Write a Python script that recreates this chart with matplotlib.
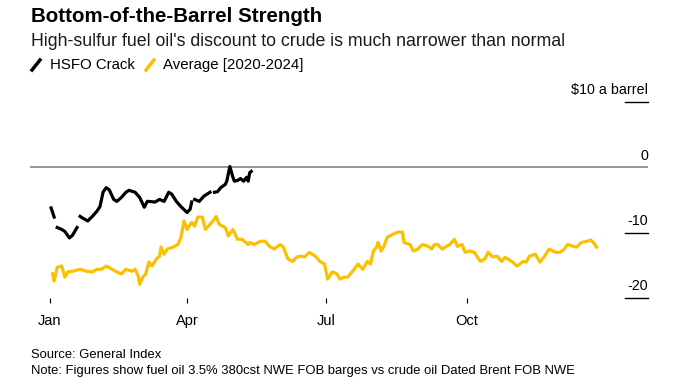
import numpy as np
import pandas as pd
import matplotlib
matplotlib.use("Agg")
import matplotlib.pyplot as plt
from matplotlib.lines import Line2D
import matplotlib.transforms as mtransforms

plt.rcParams['font.family'] = ['Liberation Sans', 'DejaVu Sans']

# HSFO crack (day of year 2025, $/bbl); NaN = missing day
crack_day = [1, 3, 4, 5, 8, 10, 13, 15, 18, 19, 20, 22, 25, 28, 31, 33, 35, 37, 39, 42,
             44, 47, 50, 52, 56, 59, 62, 64, 65, 69, 72, 75, 78, 80, 83, 86, 90,
             92, 93, 94, 95, 98, 101, 105, 106, 108, 110, 112, 115, 116, 118,
             120, 121, 123, 125, 127, 129, 130, 131, 132]
crack_val = [-6.2, -7.6, np.nan, -9.2, -9.5, -9.8, -10.8, -10.4, -9.2, np.nan, -7.5, -7.8,
             -8.2, -7.5, -6.7, -6.0, -3.8, -3.1, -3.4, -4.9, -5.2, -4.6, -3.8, -3.5,
             -3.8, -4.6, -6.1, -5.2, -5.2, -5.3, -4.9, -5.2, -3.8, -4.1, -5.2, -6.0,
             -6.9, -6.4, -5.3, np.nan, -4.9, -5.2, -4.4, -3.8, np.nan, -3.8,
             -3.7, -3.1, -2.6, -2.1, 0.15, -1.5, -2.1, -2.0, -1.7, -2.1, -1.5,
             -2.1, -0.8, -0.6]

# 2020-2024 average
avg_day = [2, 3, 5, 8, 10, 12, 15, 20, 24, 28, 31, 34, 37, 41, 44, 47, 50, 54, 56, 58,
           59, 61, 63, 65, 67, 70, 72, 73, 75, 77, 81, 84, 86, 88, 90, 93, 95, 97, 100,
           102, 105, 107, 109, 111, 115, 117, 120, 123, 126, 130, 131, 134, 138, 141,
           144, 147, 151, 153, 156, 159, 162, 165, 167, 170, 174, 177, 180, 182, 185,
           188, 190, 193, 195, 198, 202, 203, 205, 208, 210, 212, 214, 215, 217, 219,
           221, 225, 228, 231, 232, 236, 238, 241, 244, 248, 250, 252, 254, 257, 259,
           262, 265, 267, 270, 272, 275, 278, 280, 282, 285, 287, 290, 293, 296, 298,
           300, 303, 306, 310, 312, 314, 318, 321, 324, 327, 331, 334, 337, 339, 343,
           345, 348, 352, 354, 356, 358]
avg_val = [-16.3, -17.4, -15.3, -15.1, -16.8, -16.0, -15.9, -15.6, -15.9, -16.0, -15.6,
           -15.6, -15.1, -15.6, -16.0, -16.3, -15.6, -15.9, -15.6, -16.6, -17.9, -16.8,
           -16.3, -14.5, -15.1, -14.0, -13.6, -12.2, -13.3, -12.5, -12.2, -11.8, -10.7,
           -8.2, -9.5, -8.4, -9.0, -7.6, -7.6, -9.5, -8.7, -8.2, -7.5, -8.7, -9.2,
           -10.5, -9.5, -11.0, -11.0, -11.8, -11.5, -11.8, -11.3, -11.3, -12.1, -12.5,
           -11.8, -12.2, -14.0, -14.4, -13.7, -13.6, -13.7, -13.0, -13.6, -14.4, -14.8,
           -17.1, -16.0, -16.3, -17.1, -16.8, -16.8, -16.0, -14.8, -15.1, -15.6, -14.4,
           -14.8, -12.8, -12.2, -11.5, -12.8, -12.0, -10.7, -10.2, -9.9, -9.9, -11.5,
           -11.8, -12.8, -12.5, -11.8, -12.1, -12.5, -11.8, -11.8, -12.5, -12.2, -11.8,
           -11.0, -12.1, -11.8, -13.0, -12.8, -13.0, -13.7, -14.4, -14.0, -13.0, -13.7,
           -13.6, -14.4, -13.8, -14.0, -14.5, -15.1, -14.4, -14.5, -13.6, -13.3, -14.5,
           -13.6, -12.5, -13.0, -13.0, -12.5, -11.8, -12.1, -12.2, -11.5, -11.3, -11.1,
           -11.5, -12.2]

y_ticks = [10, 0, -10, -20]
y_labels = ['$10 a barrel', '0', '-10', '-20']
x_tick_dates = ['2025-01-01', '2025-04-01', '2025-07-01', '2025-10-01']
x_tick_labels = ['Jan', 'Apr', 'Jul', 'Oct']

BLACK = '#000000'
YELLOW = '#FBC000'

start = pd.Timestamp('2025-01-01')
crack_dates = start + pd.to_timedelta(crack_day, unit='D')
avg_dates = start + pd.to_timedelta(avg_day, unit='D')

fig = plt.figure(figsize=(6.83, 3.9), dpi=100)
ax = fig.add_axes([30 / 683, 1 - 298 / 390, 618 / 683, 218 / 390])

ax.plot(avg_dates, avg_val, color=YELLOW, lw=2.3, solid_joinstyle='round', zorder=3)
ax.plot(crack_dates, crack_val, color=BLACK, lw=2.3, solid_joinstyle='round', zorder=4)

ax.axhline(0, color='#8c8c8c', lw=1.3, zorder=2)

ax.set_xlim(start - pd.Timedelta(days=12.8), start + pd.Timedelta(days=391.7))
ax.set_ylim(-20, 13.4)

for s in ax.spines.values():
    s.set_visible(False)

ax.set_yticks([])
ax.set_xticks(pd.to_datetime(x_tick_dates))
ax.set_xticklabels(x_tick_labels, fontsize=10.5)
ax.tick_params(axis='x', length=3.5, width=0.8, color='#000000', pad=8)

# right-side value labels with short tick lines
trans = mtransforms.blended_transform_factory(ax.transAxes, ax.transData)
tick_x0 = 1 - 23 / 618
for v, lab in zip(y_ticks, y_labels):
    if v != 0:
        ax.plot([tick_x0, 1], [v, v], transform=trans, color='#000000', lw=1.0,
                clip_on=False)
    ax.text(1, v + 1.2, lab, transform=trans, ha='right', va='baseline',
            fontsize=10.3, color='#000000')

# titles
fig.text(31 / 683, 1 - 16 / 390, 'Bottom-of-the-Barrel Strength', fontsize=14.8,
         fontweight='bold', va='center', ha='left')
fig.text(31 / 683, 1 - 41 / 390,
         "High-sulfur fuel oil's discount to crude is much narrower than normal",
         fontsize=12.8, va='center', ha='left', color='#1a1a1a')

# legend
ly = 1 - 65 / 390
for x0, x_txt, col, lab in [(32, 50, BLACK, 'HSFO Crack'),
                            (146, 163, YELLOW, 'Average [2020-2024]')]:
    fig.add_artist(Line2D([x0 / 683, (x0 + 8) / 683], [ly - 5 / 390, ly + 5 / 390],
                          color=col, lw=2.5, transform=fig.transFigure))
    fig.text(x_txt / 683, ly, lab, fontsize=10.8, va='center', ha='left')

# footer
fig.text(31 / 683, 1 - 355 / 390, 'Source: General Index', fontsize=9.4,
         va='center', ha='left')
fig.text(31 / 683, 1 - 371 / 390,
         'Note: Figures show fuel oil 3.5% 380cst NWE FOB barges vs crude oil Dated Brent FOB NWE',
         fontsize=9.4, va='center', ha='left')

fig.savefig('out.png', dpi=100)
